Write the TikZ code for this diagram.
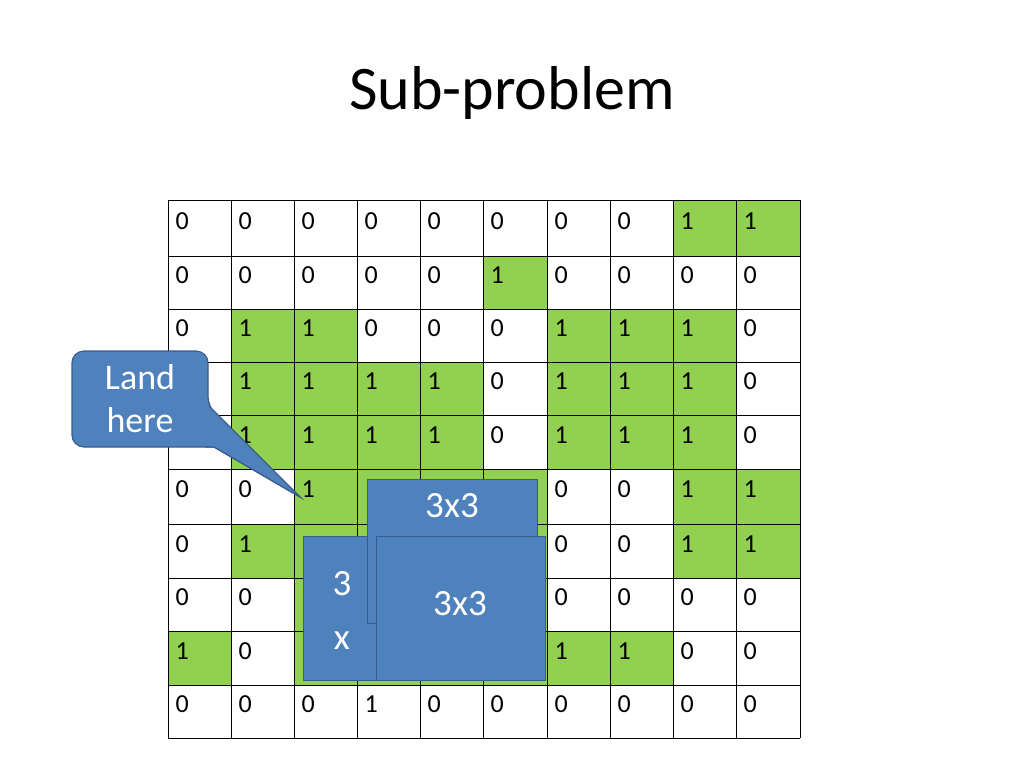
\documentclass[tikz,border=0pt]{standalone}
\usepackage{fontspec}
\setmainfont{Carlito}
\definecolor{grn}{HTML}{92D050}
\definecolor{blu}{HTML}{4F81BD}
\definecolor{bdr}{HTML}{385D8A}
\begin{document}
\begin{tikzpicture}[x=1pt,y=-1pt,
  bluebox/.style={fill=blu,draw=bdr,line width=1.2pt,text=white},
  boxtext/.style={text=white,font=\fontsize{37}{40}\selectfont},
  cellnum/.style={anchor=west,font=\fontsize{26}{28}\selectfont}]
\useasboundingbox (0,0) rectangle (1024,768);
\node (title) at (512,93) {\fontsize{62}{68}\selectfont Sub-problem};
\def\xs{{168,231,294,357,420,483,547,610,673,736,800}}
\def\ys{{200,256,309,362,415,469,524,578,631,685,738}}
\def\vals{{
{0,0,0,0,0,0,0,0,1,1},
{0,0,0,0,0,1,0,0,0,0},
{0,1,1,0,0,0,1,1,1,0},
{0,1,1,1,1,0,1,1,1,0},
{0,1,1,1,1,0,1,1,1,0},
{0,0,1,3,3,3,0,0,1,1},
{0,1,3,3,3,3,0,0,1,1},
{0,0,3,3,3,3,0,0,0,0},
{1,0,3,3,3,3,1,1,0,0},
{0,0,0,2,0,0,0,0,0,0}}}
\foreach \r in {0,...,9}{
  \foreach \c in {0,...,9}{
    \pgfmathsetmacro{\xa}{\xs[\c]}
    \pgfmathsetmacro{\xb}{\xs[\c+1]}
    \pgfmathsetmacro{\ya}{\ys[\r]}
    \pgfmathsetmacro{\yb}{\ys[\r+1]}
    \pgfmathtruncatemacro{\v}{\vals[\r][\c]}
    \ifnum\v=1 \fill[grn] (\xa,\ya) rectangle (\xb,\yb);\fi
    \ifnum\v=3 \fill[grn] (\xa,\ya) rectangle (\xb,\yb);\else
    \ifnum\v=2 \def\v{1}\fi
    \node[cellnum] (c\r-\c) at (\xa+4,{(\ya+\yb)/2-7}) {\v};\fi
  }}
\foreach \i in {0,...,10}{
  \pgfmathsetmacro{\xa}{\xs[\i]}
  \pgfmathsetmacro{\ya}{\ys[\i]}
  \draw[line width=0.8pt] (\xa,200) -- (\xa,738);
  \draw[line width=0.8pt] (168,\ya) -- (800,\ya);}
% boxes
\node[bluebox,minimum width=74pt,minimum height=144pt,anchor=north west] (bx) at (303,536) {};
\node[boxtext] (b3) at (342,584) {3};
\node[boxtext] (bxx) at (342,641) {x};
\node[bluebox,minimum width=170pt,minimum height=144pt,anchor=north west] (ba) at (367,479) {};
\node[boxtext] (ta) at (452,506) {3x3};
\node[bluebox,minimum width=169pt,minimum height=144pt,anchor=north west] (bc) at (376,536) {};
\node[boxtext] (tc) at (460,604) {3x3};
% callout
\coordinate (tip) at (300,497);
\fill[blu,draw=bdr,line width=1.2pt,rounded corners=12pt] (72,351) -- (208,351) -- (208,408) [sharp corners] -- (tip) -- (214,447) [rounded corners=12pt] -- (72,447) -- cycle;
\fill[blu,draw=bdr,line width=1.2pt] (208,405) -- (tip) -- (214,447) -- (205,447);
\fill[blu] (190,404) rectangle (208.6,446.4);
\node[boxtext,align=center,font=\fontsize{36}{43}\selectfont] (land) at (140,399) {Land\\here};
\end{tikzpicture}
\end{document}
